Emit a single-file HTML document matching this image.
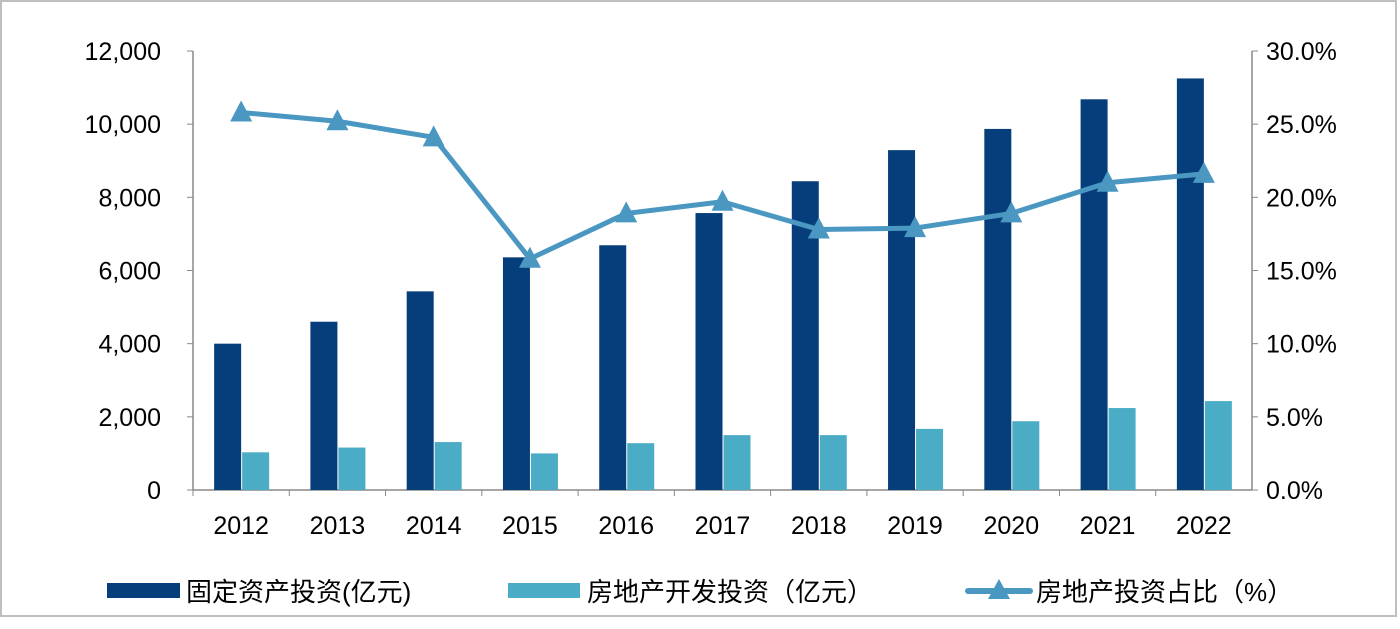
<!DOCTYPE html>
<html><head><meta charset="utf-8"><style>
body{margin:0;background:#fff;width:1400px;height:624px;overflow:hidden}
svg text{font-family:"Liberation Sans","Noto Sans CJK SC",sans-serif;fill:#000}
</style></head><body>
<svg id="c" width="1400" height="624">
<rect x="1" y="1" width="1395" height="615" fill="#fff" stroke="#bfbfbf" stroke-width="2"/>
<g id="g"></g>
</svg>
<script>
const categories=["2012","2013","2014","2015","2016","2017","2018","2019","2020","2021","2022"];
const fixedInvest=[4000,4600,5430,6360,6690,7570,8440,9290,9870,10680,11250];
const realEstate=[1030,1160,1310,1000,1280,1500,1500,1670,1880,2240,2430];
const sharePct=[25.8,25.2,24.1,15.8,18.9,19.7,17.8,17.9,18.9,21.0,21.6];
const leftTicks=[0,2000,4000,6000,8000,10000,12000];
const rightTicks=[0,5,10,15,20,25,30];
const NS="http://www.w3.org/2000/svg",g=document.getElementById('g');
const X0=193,X1=1252,Y0=490,Y1=51;
const step=(X1-X0)/categories.length;
const xc=i=>X0+step*(i+0.5);
const yL=v=>Y0-(v/12000)*(Y0-Y1);
const yR=v=>Y0-(v/30)*(Y0-Y1);
function mk(t,a,txt){const e=document.createElementNS(NS,t);for(const k in a)e.setAttribute(k,a[k]);if(txt!=null)e.textContent=txt;g.appendChild(e);return e;}
let e;
e=mk('line',{x1:X0,y1:Y1,x2:X0,y2:Y0,stroke:'#888','stroke-width':1.5});

e=mk('line',{x1:X1,y1:Y1,x2:X1,y2:Y0,stroke:'#888','stroke-width':1.5});

e=mk('line',{x1:X0,y1:Y0,x2:X1,y2:Y0,stroke:'#888','stroke-width':1.5});

leftTicks.forEach(v=>{
 mk('line',{x1:X0-6,y1:yL(v),x2:X0,y2:yL(v),stroke:'#888'});
 e=mk('text',{x:X0-32,y:yL(v)+9,'text-anchor':'end','font-size':25},v.toLocaleString('en-US'));
 
});
rightTicks.forEach(v=>{
 mk('line',{x1:X1,y1:yR(v),x2:X1+6,y2:yR(v),stroke:'#888'});
 e=mk('text',{x:X1+14,y:yR(v)+9,'font-size':25},v.toFixed(1)+'%');
 
});
categories.forEach((c,i)=>{
 mk('line',{x1:X0+step*i,y1:Y0,x2:X0+step*i,y2:Y0+6,stroke:'#888'});
 e=mk('text',{x:xc(i),y:534,'text-anchor':'middle','font-size':25},c);
 
 e=mk('rect',{x:xc(i)-27,y:yL(fixedInvest[i]),width:27,height:Y0-yL(fixedInvest[i]),fill:'#053e7a'});
 
 e=mk('rect',{x:xc(i)+1,y:yL(realEstate[i]),width:27,height:Y0-yL(realEstate[i]),fill:'#4bacc6'});
 
});
e=mk('polyline',{points:sharePct.map((v,i)=>xc(i)+','+yR(v)).join(' '),fill:'none',stroke:'#4a97c2','stroke-width':5,'stroke-linejoin':'round'});

sharePct.forEach((v,i)=>{
 const x=xc(i),y=yR(v);
 e=mk('polygon',{points:`${x},${y-12} ${x-11},${y+9} ${x+11},${y+9}`,fill:'#4a97c2'});
 
});
// legend
e=mk('rect',{x:107,y:583,width:73,height:15,fill:'#053e7a'});

e=mk('text',{x:186,y:601,'font-size':26},'固定资产投资(亿元)');

e=mk('rect',{x:508,y:583,width:72,height:15,fill:'#4bacc6'});

e=mk('text',{x:587,y:601,'font-size':26},'房地产开发投资（亿元）');

e=mk('line',{x1:968,y1:591,x2:1030,y2:591,stroke:'#4a97c2','stroke-width':6,'stroke-linecap':'round'});

e=mk('polygon',{points:'999,579 988,599 1010,599',fill:'#4a97c2'});

e=mk('text',{x:1036,y:601,'font-size':26},'房地产投资占比（%）');

</script>
</body></html>
